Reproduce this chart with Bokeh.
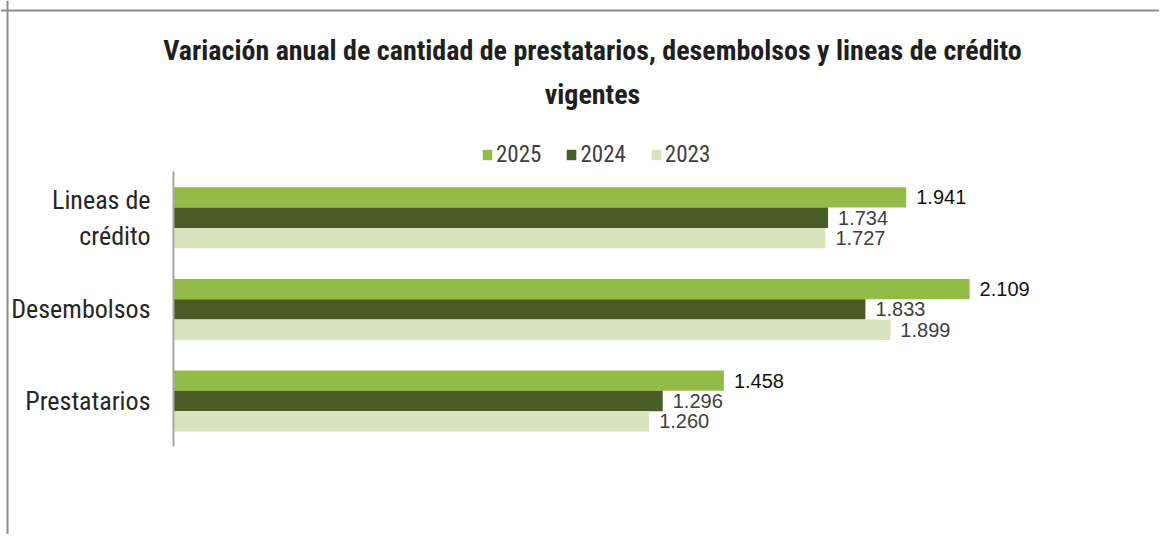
from bokeh.plotting import figure
from bokeh.models import ColumnDataSource, LabelSet, Label, Legend, LegendItem, Range1d, FixedTicker, Span
from bokeh.transform import dodge
from bokeh.core.properties import value
from bokeh.embed import file_html
from bokeh.resources import INLINE

# ---- data ----
categories = ["Prestatarios", "Desembolsos", "Lineas de\ncrédito"]  # bottom -> top
v2025 = [1458, 2109, 1941]
v2024 = [1296, 1833, 1734]
v2023 = [1260, 1899, 1727]
years = ["2025", "2024", "2023"]
title_line1 = "Variación anual de cantidad de prestatarios, desembolsos y lineas de crédito"
title_line2 = "vigentes"

def fmt(v):
    return f"{v:,}".replace(",", ".")

ypos = list(range(len(categories)))
src = ColumnDataSource(dict(
    y=ypos, cat=categories,
    v2025=v2025, v2024=v2024, v2023=v2023,
    t2025=[fmt(v) for v in v2025],
    t2024=[fmt(v) for v in v2024],
    t2023=[fmt(v) for v in v2023],
))

COL = {"2025": "#92BB47", "2024": "#4A5D27", "2023": "#D7E4BD"}
NARROW = "'Liberation Sans Narrow', 'Roboto Condensed', Roboto"

p = figure(width=1159, height=534, x_range=Range1d(-458.3, 2612.0), y_range=Range1d(-1.4574, 4.372),
           output_backend="svg", toolbar_location=None,
           min_border_left=0, min_border_right=0, min_border_top=0, min_border_bottom=0)
p.xaxis.visible = False
p.xgrid.grid_line_color = None
p.ygrid.grid_line_color = None
p.outline_line_color = None
p.background_fill_color = "white"
p.border_fill_color = "white"

# chart-area border (top and left edges only, as in the original crop)
p.add_layout(Span(location=4.263, dimension="width", line_color="#8c8c8c", line_width=2))
p.add_layout(Span(location=-439.7, dimension="height", line_color="#8c8c8c", line_width=2))

BH = 0.222
offsets = {"2025": BH, "2024": 0.0, "2023": -BH}
renderers = {}
for yr in years:
    r = p.hbar(y=dodge("y", offsets[yr]), right="v" + yr, left=0,
               height=BH, source=src, fill_color=COL[yr], line_color=None)
    renderers[yr] = r

lab_color = {"2025": "#111111", "2024": "#404040", "2023": "#404040"}
for yr in years:
    ls = LabelSet(x="v" + yr, y=dodge("y", offsets[yr]), text="t" + yr,
                  source=src, x_offset=10, text_baseline="middle", text_align="left",
                  text_font=value("Liberation Sans"), text_font_size="20px",
                  text_color=lab_color[yr])
    p.add_layout(ls)

ax = p.yaxis[0]
ax.fixed_location = 0
ax.ticker = FixedTicker(ticks=ypos)
ax.major_label_overrides = {i: c for i, c in zip(ypos, categories)}
ax.bounds = (-0.5, len(categories) - 0.5)
ax.axis_line_color = "#a6a6a6"
ax.axis_line_width = 2
ax.major_tick_line_color = None
ax.minor_tick_line_color = None
ax.major_label_standoff = 17
ax.major_label_text_font = NARROW
ax.major_label_text_font_size = "26px"
ax.major_label_text_color = "#262626"

legend = Legend(items=[LegendItem(label=yr, renderers=[renderers[yr]]) for yr in years],
                location=(481, 366), orientation="horizontal",
                glyph_width=12, glyph_height=13, label_standoff=3, spacing=24,
                padding=0, margin=0, border_line_color=None, background_fill_alpha=0,
                label_text_font=NARROW, label_text_font_size="23px", label_text_color="#404040")
p.add_layout(legend, "center")

for txt, yy in [(title_line1, 484), (title_line2, 440)]:
    p.add_layout(Label(x=592, y=yy, x_units="screen", y_units="screen", text=txt,
                       text_align="center", text_baseline="middle", text_font=NARROW,
                       text_font_style="bold", text_font_size="28px", text_color="#1f1f1f"))

open("out.html", "w").write(file_html(p, INLINE))
